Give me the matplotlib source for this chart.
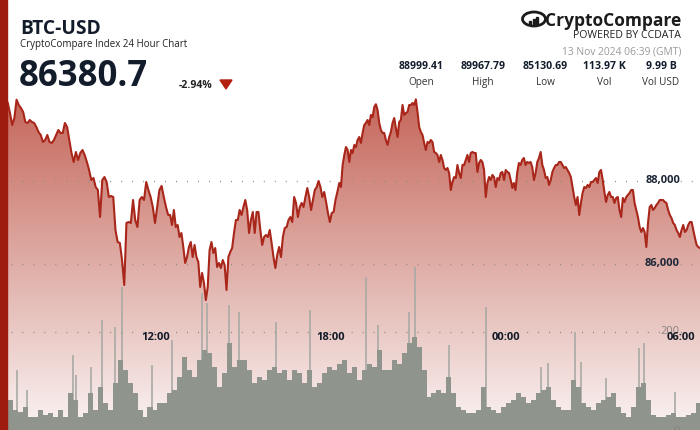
import numpy as np
import pandas as pd
import matplotlib
matplotlib.use("Agg")
import matplotlib.pyplot as plt
import matplotlib.dates as mdates
import matplotlib.transforms as mtrans
from matplotlib.patches import Rectangle, Ellipse, Polygon

plt.rcParams['font.family'] = ['Open Sans', 'DejaVu Sans']

# ---------------- data ----------------
title = "BTC-USD"
subtitle = "CryptoCompare Index 24 Hour Chart"
last_price = "86380.7"
change_pct = "-2.94%"
stat_values = ["88999.41", "89967.79", "85130.69", "113.97 K", "9.99 B"]
stat_labels = ["Open", "High", "Low", "Vol", "Vol USD"]
timestamp = "13 Nov 2024 06:39 (GMT)"

# price segments (start, end, values)
seg_a_span = ("2024-11-12 06:55", "2024-11-12 12:25")
seg_a = [89880, 89639, 89350, 89518, 89960, 89832, 89759, 89663, 89422, 89398,
         89470, 89422, 89398, 89301, 89181, 89109, 88940, 88988, 89109, 88940,
         88916, 88988, 89109, 89229, 89157, 89157, 89398, 89301, 88988, 88675,
         88458, 88699, 88506, 88675, 88747, 88627, 88458, 88265, 88024, 88072,
         87855, 87783, 87132, 88024, 88096, 87976, 87614, 87639, 87614, 86819,
         86530, 86506, 86096, 85494, 86988, 87012, 86988, 87542, 87060, 86891,
         87542, 87614, 87542, 87976, 87783, 87614, 87373, 86988, 87373, 87783,
         87880, 87614, 87373, 87181]
seg_b_span = ("2024-11-12 12:29", "2024-11-12 18:13")
seg_b = [87181, 86940, 87301, 86891, 86940, 86650, 86747, 86409, 86024, 86168,
         86409, 86530, 86168, 86458, 86168, 86048, 85445, 85783, 85542, 85130,
         85445, 86337, 86530, 86265, 86385, 85927, 86024, 85903, 86096, 85976,
         85373, 86168, 86289, 86385, 86747, 87060, 87060, 87301, 87181, 87373,
         87542, 87301, 86747, 87060, 87253, 86747, 87253, 87253, 86819, 86458,
         86650, 86699, 86650, 86819, 86506, 86168, 85903, 86217, 86409, 86168,
         86650, 86867, 86891, 87060, 87132, 87012, 87614, 87470, 87132, 87373,
         87470, 87373, 87614, 87831, 87614, 87301, 87542, 87783, 87855, 88000,
         87855, 87614, 87735, 87494, 87229, 87012, 87229, 87253, 87542, 87735]
seg_c_span = ("2024-11-12 18:17", "2024-11-13 00:13")
seg_c = [87952, 87855, 88386, 88627, 88819, 88747, 88458, 88747, 88675, 88868,
         88819, 88988, 89060, 88916, 89157, 89350, 89398, 89470, 89350, 89591,
         89542, 89783, 89850, 89711, 89398, 89229, 89157, 89157, 88988, 88868,
         89060, 89181, 89398, 89518, 89277, 89060, 89422, 89470, 89832, 89591,
         89639, 89663, 89832, 89832, 89880, 89832, 89968, 89663, 89301, 89181,
         89109, 88916, 88747, 88940, 88916, 88988, 88940, 88699, 88675, 88627,
         88458, 88627, 88506, 88313, 88265, 88313, 88193, 87783, 87976, 88096,
         88072, 88386, 88193, 88072, 88386, 88386, 88506, 88627, 88458, 88675,
         88699, 88675, 88675, 88217, 88434, 88506, 88458, 88265, 87614, 87952,
         88096, 88024, 88145, 88096, 87855, 88072, 88024, 88193, 88217, 88024,
         88265, 88217, 88193, 88024, 87831]
seg_d_span = ("2024-11-13 00:16", "2024-11-13 06:39")
seg_d = [87952, 87783, 88193, 88434, 88386, 88506, 88554, 88386, 88458, 88434,
         88458, 88337, 88024, 88193, 88458, 88554, 88699, 88386, 88265, 88072,
         88096, 87904, 88024, 88217, 88313, 88386, 88386, 88458, 88458, 88386,
         88313, 88337, 88265, 88193, 88096, 87855, 87614, 87422, 87614, 87181,
         87470, 87711, 87855, 87831, 87904, 87855, 87976, 87976, 88024, 88072,
         87952, 88217, 88265, 88024, 87735, 87494, 87663, 87735, 87614, 87614,
         87470, 87590, 87614, 87301, 87132, 87590, 87494, 87614, 87663, 87711,
         87783, 87783, 87470, 87301, 87132, 86891, 86771, 86867, 86771, 86409,
         86988, 87373, 87422, 87301, 87349, 87422, 87470, 87542, 87542, 87542,
         87494, 87470, 87301, 87181, 87108, 86988, 86940, 86819, 86747, 86650,
         86819, 86940, 86771, 86819, 86940, 87012, 87012, 86819, 86626, 86458,
         86409, 86380.7]

# volume (coins per interval)
vol_start = "2024-11-12 07:00:30"
vol_freq = "615s"
volume = [64, 44, 40, 50, 30, 30, 44, 34, 38, 30, 44, 30, 78, 64, 30, 38, 78, 44,
          90, 58, 44, 98, 144, 124, 98, 78, 44, 30, 50, 44, 58, 58, 78, 84, 110,
          150, 124, 110, 144, 164, 158, 130, 90, 118, 178, 130, 144, 144, 124, 98,
          110, 104, 124, 130, 118, 124, 104, 124, 118, 98, 124, 90, 98, 118, 130,
          124, 137, 144,
          118, 130, 104, 124, 137, 130, 164, 124, 124, 144, 137, 158, 178, 190,
          170, 124, 70, 78, 84, 78, 110, 78, 50, 44, 38, 38, 44, 90, 50, 44, 38,
          50, 58, 64, 78, 70, 58, 64, 78, 84, 90, 64, 50, 44, 44, 104, 90, 58, 50,
          44, 58, 64, 70, 78, 50, 38, 30, 50, 90, 98, 64, 34, 30, 30, 34, 38, 30,
          30, 34, 38, 58]
spike_times = ["2024-11-12 07:14", "2024-11-12 07:35", "2024-11-12 09:09",
               "2024-11-12 09:16", "2024-11-12 09:46", "2024-11-12 10:08",
               "2024-11-12 10:35", "2024-11-12 10:50", "2024-11-12 11:52",
               "2024-11-12 12:33", "2024-11-12 13:34", "2024-11-12 13:44",
               "2024-11-12 14:30", "2024-11-12 14:50", "2024-11-12 16:06",
               "2024-11-12 17:17", "2024-11-12 19:12", "2024-11-12 19:36",
               "2024-11-12 20:40", "2024-11-12 20:53", "2024-11-12 22:03",
               "2024-11-12 23:18", "2024-11-13 01:11", "2024-11-13 01:27",
               "2024-11-13 02:22", "2024-11-13 02:35", "2024-11-13 03:26",
               "2024-11-13 04:33", "2024-11-13 04:44", "2024-11-13 05:47"]
spike_vals = [124, 84, 154, 114, 130, 224, 210, 290, 134, 184, 278, 258, 254, 240,
              220, 244, 310, 214, 240, 330, 174, 250, 130, 138, 200, 140, 108, 168,
              178, 80]

price_ticks = [86000, 88000]
vol_ticks = [0, 200]
time_ticks = ["2024-11-12 12:00", "2024-11-12 18:00", "2024-11-13 00:00", "2024-11-13 06:00"]
x_range = ("2024-11-12 06:39", "2024-11-13 06:39")

# ---------------- figure ----------------
W, H = 700, 430
fig = plt.figure(figsize=(7, 4.3), dpi=100)
fig.patch.set_facecolor("white")

def fx(px):
    return px / W

def fy(py):
    return 1 - py / H

segs = [(seg_a_span, seg_a), (seg_b_span, seg_b), (seg_c_span, seg_c), (seg_d_span, seg_d)]
times = np.concatenate([mdates.date2num(pd.date_range(s, e, periods=len(v))) for (s, e), v in segs])
prices = np.concatenate([np.array(v, dtype=float) for _, v in segs])

pmin, pmax = 81999, 92362
vmin, vmax = 4, 864
x0, x1 = mdates.date2num(pd.Timestamp(x_range[0])), mdates.date2num(pd.Timestamp(x_range[1]))

ax = fig.add_axes([0, 0, 1, 1])
ax.set_xlim(x0, x1)
ax.set_ylim(pmin, pmax)
ax.axis("off")

# gradient fill under price line
verts = [(times[0], pmin)] + list(zip(times, prices)) + [(times[-1], pmin)]
clip = Polygon(verts, closed=True, facecolor="none", edgecolor="none")
ax.add_patch(clip)
c_top = np.array([196, 100, 88]) / 255
c_bot = np.array([250, 244, 243]) / 255
g = np.linspace(0, 1, 256)[:, None]
img = (c_top[None, None, :] * (1 - g[:, :, None]) + c_bot[None, None, :] * g[:, :, None])
im = ax.imshow(img, extent=[x0, x1, pmin, 90100], aspect="auto", origin="upper", zorder=1)
im.set_clip_path(clip)
ax.set_xlim(x0, x1)
ax.set_ylim(pmin, pmax)

for pt in price_ticks:
    ax.axhline(pt, color="#8a8a8a", lw=1.0, ls=(0, (0.7, 7.2)), zorder=2)

# volume axis
axv = ax.twinx()
axv.set_xlim(x0, x1)
axv.set_ylim(vmin, vmax)
axv.axis("off")
vt = mdates.date2num(pd.date_range(vol_start, periods=len(volume), freq=vol_freq))
bw = 615 / 86400
axv.bar(vt, volume, width=bw * 1.02, color="#8f948d", align="center", zorder=2, linewidth=0)
st = mdates.date2num(pd.to_datetime(spike_times))
axv.vlines(st, 0, spike_vals, color="#a9aaa5", lw=1.2, zorder=1.5)
axv.axhline(vol_ticks[1], color="#8a8a8a", lw=1.0, ls=(0, (0.7, 7.2)), zorder=3)

# price line on top
axv.plot(times, prices, color="#a9261a", lw=1.5, transform=ax.transData, zorder=5,
         solid_joinstyle="round")
axv.set_xlim(x0, x1)
axv.set_ylim(vmin, vmax)

# price labels
ptrans = mtrans.blended_transform_factory(axv.transAxes, ax.transData)
for pt in price_ticks:
    axv.text(fx(680), pt, f"{pt:,}", transform=ptrans,
             ha="right", va="center", fontsize=8, fontweight="bold", color="#1c2636", zorder=6)
# volume labels
vtrans = mtrans.blended_transform_factory(axv.transAxes, axv.transData)
for vtk in vol_ticks:
    axv.text(fx(680), vtk, f"{vtk}", transform=vtrans,
             ha="right", va="center", fontsize=8, color="#8a8380", zorder=6)

# time labels + tiny tick dashes
blend = mtrans.blended_transform_factory(axv.transData, axv.transAxes)
for tt in time_ticks:
    ts = pd.Timestamp(tt)
    xv = mdates.date2num(ts)
    axv.text(xv, fy(337), ts.strftime("%H:%M"), transform=blend, ha="center", va="center",
             fontsize=8, fontweight="bold", color="#111a26", zorder=7)
    axv.plot([xv - 0.0006, xv + 0.0006], [fy(320), fy(320)], transform=blend, color="#333333",
             lw=0.8, zorder=7)

# left red bar
fig.add_artist(Rectangle((0, 0), fx(7), 1, transform=fig.transFigure, color="#9e1b0f", zorder=20))

# header
fig.text(fx(20), fy(34), title, fontsize=13.8, fontweight="bold", color="#131c2b", va="baseline")
fig.text(fx(20), fy(47), subtitle, fontsize=7, color="#222222", va="baseline")
fig.text(fx(19), fy(86), last_price, fontsize=25, fontweight="bold", color="#131c2b", va="baseline")
fig.text(fx(179), fy(88), change_pct, fontsize=7.6, fontweight="bold", color="#222222", va="baseline")
fig.add_artist(Polygon([(fx(220), fy(80)), (fx(232), fy(80)), (fx(226), fy(89))], closed=True,
                       transform=fig.transFigure, color="#b3200f", zorder=20))

centers = [421, 483, 545, 604, 661]
for cx, val, lab in zip(centers, stat_values, stat_labels):
    fig.text(fx(cx), fy(69), val, fontsize=7.6, fontweight="bold", color="#131c2b", ha="center", va="baseline")
    fig.text(fx(cx), fy(85), lab, fontsize=7.2, color="#333333", ha="center", va="baseline")

# logo
fig.text(fx(681), fy(26), "CryptoCompare", fontsize=12.5, fontweight="bold", color="#1b1b1b",
         ha="right", va="baseline")
fig.text(fx(681), fy(38), "POWERED BY CCDATA", fontsize=7.6, color="#222222", ha="right", va="baseline")
fig.text(fx(681), fy(54), timestamp, fontsize=7.4, color="#9a9a9a", ha="right", va="baseline")
fig.add_artist(Ellipse((fx(534), fy(19)), fx(23), 14 / H, angle=0, fill=False, lw=2.0,
                       edgecolor="#1b1b1b", transform=fig.transFigure, zorder=20))
for i, hgt in enumerate([3, 5, 7]):
    fig.add_artist(Rectangle((fx(529 + i * 3.5), fy(24)), fx(2), hgt / H, transform=fig.transFigure,
                             color="#1b1b1b", zorder=20))

fig.savefig("out.png", dpi=100, facecolor="white")
